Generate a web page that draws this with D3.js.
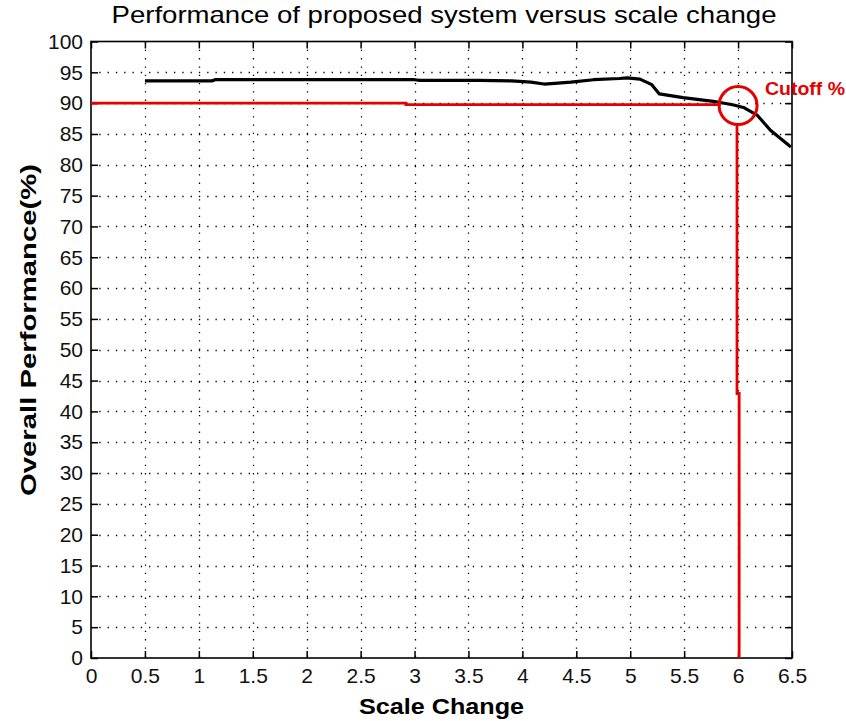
<!DOCTYPE html>
<html>
<head>
<meta charset="utf-8">
<script src="https://cdn.jsdelivr.net/npm/d3@7"></script>
<style>
  html, body { margin: 0; padding: 0; background: #fff; }
  svg { display: block; }
  text { font-family: "Liberation Sans", Arial, sans-serif; }
</style>
</head>
<body>
<script>
// ---- data ----
const xTicks = [0, 0.5, 1, 1.5, 2, 2.5, 3, 3.5, 4, 4.5, 5, 5.5, 6, 6.5];
const xTickLabels = ["0", "0.5", "1", "1.5", "2", "2.5", "3", "3.5", "4", "4.5", "5", "5.5", "6", "6.5"];
const yTicks = [0, 5, 10, 15, 20, 25, 30, 35, 40, 45, 50, 55, 60, 65, 70, 75, 80, 85, 90, 95, 100];

// performance curve (scale change, overall performance %)
const perfX = [0.5, 1.12, 1.15, 2.35, 3.0, 3.05, 3.6, 3.9, 4.08, 4.2, 4.3, 4.45, 4.66, 4.9, 4.97, 5.09, 5.2, 5.27, 5.49, 5.77, 5.96, 6.05, 6.18, 6.3, 6.49];
const perfY = [93.6, 93.6, 93.8, 93.8, 93.8, 93.7, 93.7, 93.6, 93.4, 93.1, 93.2, 93.4, 93.8, 94.0, 94.1, 93.9, 93.0, 91.5, 90.9, 90.3, 89.7, 89.3, 88.0, 85.6, 82.9];

// cutoff annotation (red)
const cutoffHX = [0, 2.92, 2.92, 5.84];
const cutoffHY = [90, 90, 89.75, 89.75];
const cutoffVX = [5.99, 5.99, 6.01, 6.01];
const cutoffVY = [86.4, 42.9, 42.9, 0];
const cutoffCircle = [6.0, 89.6];
const cutoffLabel = "Cutoff %";

const titleText = "Performance of proposed system versus scale change";
const xLabel = "Scale Change";
const yLabel = "Overall Performance(%)";

// ---- layout ----
const W = 846, H = 721;
const mLeft = 91, mRight = 792, mTop = 41.5, mBottom = 658;
const red = "#e50000";

const svg = d3.select("body").append("svg").attr("width", W).attr("height", H);
svg.append("rect").attr("width", W).attr("height", H).attr("fill", "#fff");

const x = d3.scaleLinear().domain([0, 6.5]).range([mLeft, mRight]);
const y = d3.scaleLinear().domain([0, 100]).range([mBottom, mTop]);

// grid
const grid = svg.append("g").attr("stroke", "#000").attr("stroke-width", 1.3)
  .attr("stroke-dasharray", "1.3,7");
grid.selectAll("line.v").data(xTicks.slice(1, -1)).join("line").attr("class", "v")
  .attr("x1", d => Math.round(x(d)) + 0.5).attr("x2", d => Math.round(x(d)) + 0.5)
  .attr("y1", mTop).attr("y2", mBottom);
grid.selectAll("line.h").data(yTicks.slice(1, -1)).join("line").attr("class", "h")
  .attr("y1", d => Math.round(y(d)) + 0.5).attr("y2", d => Math.round(y(d)) + 0.5)
  .attr("x1", mLeft).attr("x2", mRight);

// axes (inward ticks)
const tk = 7;
const axB = svg.append("g").attr("transform", `translate(0,${mBottom})`)
  .call(d3.axisBottom(x).tickValues(xTicks).tickSizeInner(-tk).tickSizeOuter(0).tickPadding(10)
    .tickFormat((d, i) => xTickLabels[i]));
const axT = svg.append("g").attr("transform", `translate(0,${mTop})`)
  .call(d3.axisTop(x).tickValues(xTicks).tickSizeInner(-tk).tickSizeOuter(0).tickFormat(""));
const axL = svg.append("g").attr("transform", `translate(${mLeft},0)`)
  .call(d3.axisLeft(y).tickValues(yTicks).tickSizeInner(-tk).tickSizeOuter(0).tickPadding(8));
const axR = svg.append("g").attr("transform", `translate(${mRight},0)`)
  .call(d3.axisRight(y).tickValues(yTicks).tickSizeInner(-tk).tickSizeOuter(0).tickFormat(""));

[axB, axT, axL, axR].forEach(g => {
  g.select(".domain").remove();
  g.selectAll(".tick line").attr("stroke", "#000").attr("stroke-width", 1.5);
  g.selectAll("text").attr("font-size", 21).attr("fill", "#111")
    .attr("font-family", "Liberation Sans, Arial, sans-serif");
});
axB.selectAll("text").attr("dy", "0.71em");

// frame
svg.append("rect").attr("x", mLeft).attr("y", mTop)
  .attr("width", mRight - mLeft).attr("height", mBottom - mTop)
  .attr("fill", "none").attr("stroke", "#000").attr("stroke-width", 1.6);

// performance line
const perf = perfX.map((v, i) => [v, perfY[i]]);
const line = d3.line().x(d => x(d[0])).y(d => y(d[1])).curve(d3.curveLinear);
svg.append("path").datum(perf).attr("d", line)
  .attr("fill", "none").attr("stroke", "#000").attr("stroke-width", 3.2)
  .attr("stroke-linejoin", "round");

// cutoff lines
const cutH = cutoffHX.map((v, i) => [v, cutoffHY[i]]);
svg.append("path").datum(cutH).attr("d", line)
  .attr("fill", "none").attr("stroke", red).attr("stroke-width", 2.8);
const cutV = cutoffVX.map((v, i) => [v, cutoffVY[i]]);
svg.append("path").datum(cutV).attr("d", line)
  .attr("fill", "none").attr("stroke", red).attr("stroke-width", 2.8);
svg.append("circle")
  .attr("cx", x(cutoffCircle[0])).attr("cy", y(cutoffCircle[1])).attr("r", 19)
  .attr("fill", "none").attr("stroke", red).attr("stroke-width", 3);
svg.append("text").attr("x", 765).attr("y", 95).text(cutoffLabel)
  .attr("font-size", 19).attr("font-weight", "bold").attr("fill", red)
  .attr("textLength", 80).attr("lengthAdjust", "spacingAndGlyphs");

// title & labels
svg.append("text").attr("x", 444).attr("y", 23).attr("text-anchor", "middle")
  .attr("font-size", 24).attr("fill", "#000").text(titleText)
  .attr("textLength", 665).attr("lengthAdjust", "spacingAndGlyphs");
svg.append("text").attr("x", 441.5).attr("y", 714).attr("text-anchor", "middle")
  .attr("font-size", 22).attr("font-weight", "bold").attr("fill", "#000").text(xLabel)
  .attr("textLength", 165).attr("lengthAdjust", "spacingAndGlyphs");
svg.append("text").attr("transform", "translate(36,330) rotate(-90)")
  .attr("text-anchor", "middle")
  .attr("font-size", 22).attr("font-weight", "bold").attr("fill", "#000").text(yLabel)
  .attr("textLength", 332).attr("lengthAdjust", "spacingAndGlyphs");
</script>
</body>
</html>
